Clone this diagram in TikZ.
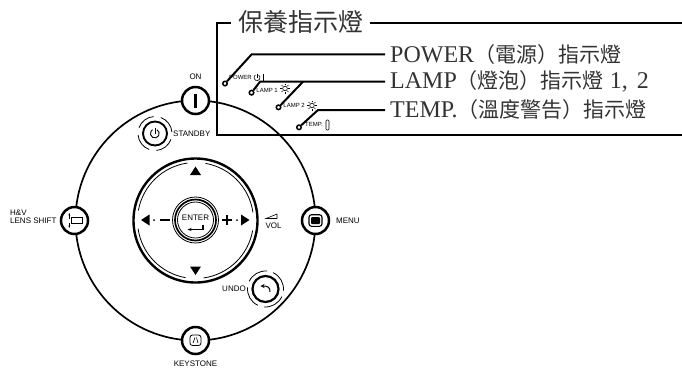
\documentclass[tikz,border=0pt]{standalone}
\usepackage{fontspec}
\setmainfont{Liberation Serif}
\setsansfont{Liberation Sans}
\newfontfamily\cjk{Noto Sans CJK TC}
\newcommand{\cjkpart}[1]{{\cjk\fontsize{21}{22}\selectfont #1}}
\usetikzlibrary{positioning, arrows.meta, calc}
\begin{document}
\begin{tikzpicture}[x=1pt, y=-1pt, >=Stealth,
      btn/.style={draw, circle, fill=white, line width=2.5pt, minimum size=27pt, inner sep=0pt},
      small/.style={circle, draw, line width=1.5pt, fill=white, minimum size=4.5pt, inner sep=0pt},
      leader/.style={line width=2pt},
      callout/.style={anchor=west, inner sep=5pt, font=\fontsize{24}{26}\selectfont, text=black!80},
      keyname/.style={inner sep=0pt, font=\sffamily\fontsize{8}{8.4}\selectfont, align=left},
      tiny/.style={inner sep=0pt, font=\sffamily\fontsize{6}{6}\selectfont},
      ringarc/.style={line width=0.8pt},
      tri/.style={fill=black, draw=none}]
    \useasboundingbox (0,0) rectangle (682,368);
    \node[inner sep=0pt, font=\cjk\fontsize{25}{27}\selectfont, text=black!80] (title) at (300.5,22) {保養指示燈};
    \draw[line width=2pt] (231,22.7) -- (217,22.7) -- (217,135) -- (682,135);
    \draw[line width=2pt] (title.east) ++(7,0.7) -- (682,22.7);
    \draw[line width=1.7pt] (195.5,220.5) circle[radius=120];
    \node[btn] (on) at (195.5,100.5) {};
    \node[btn] (menu) at (315.5,220.5) {};
    \node[btn] (shift) at (74.5,220.5) {};
    \node[btn] (keystone) at (195.5,340.5) {};
    \node[btn, minimum size=24pt, line width=1.9pt] (standby) at (155,133.5) {};
    \node[btn, minimum size=26pt, line width=2.2pt] (undo) at (265.5,289) {};
    \draw[line width=2.6pt] (on.center) ++(0,-7) -- ++(0,14);
    \draw[line width=0.9pt] (157,129.7) arc[start angle=-60,end angle=240,radius=4.4];
    \draw[line width=0.9pt] (155,127.5) -- (155,133.5);
    \foreach \a in {20,110,200,290}
      \draw[ringarc] (standby.center) ++(\a:17) arc[start angle=\a,delta angle=65,radius=17];
    \foreach \a in {25,115,205,295}
      \draw[ringarc] (undo.center) ++(\a:18) arc[start angle=\a,delta angle=70,radius=18];
    \draw[line width=1pt, ->, >={Stealth[length=4pt,width=4pt]}] (270,292) .. controls (270.5,287) and (267,286) .. (260.5,286);
    \draw[line width=1.1pt, rounded corners=2.5pt] (309,214.7) rectangle (322,226.3);
    \fill[rounded corners=1pt] (311,217) rectangle (320,224);
    \draw[line width=0.7pt] (71,217.7) rectangle (82.7,223.3);
    \draw[line width=0.6pt, ->, >={Stealth[length=2.5pt]}] (69.3,218.5) -- (69.3,213);
    \draw[line width=0.6pt, ->, >={Stealth[length=2.5pt]}] (69.3,222.5) -- (69.3,228);
    \draw[line width=0.8pt, rounded corners=2.5pt] (190,335) rectangle (201,345.5);
    \draw[line width=0.6pt] (193,343) -- (195,337.5) (198,343) -- (196.5,337.5);
    \draw[line width=2.4pt] (195.5,220.5) circle[radius=62];
    \foreach \a in {-80,10,100,190}
      \draw[ringarc] (195.5,220.5) ++(\a:58) arc[start angle=\a,delta angle=72,radius=58];
    \node[btn, minimum size=46pt, line width=0.8pt] (enter) at (195.5,220) {};
    \draw[line width=1.7pt] (enter.center) circle[radius=20.5];
    \draw[line width=0.8pt] (enter.center) circle[radius=18];
    \node[inner sep=0pt, font=\sffamily\fontsize{8}{8}\selectfont] (entertext) at (195.5,217.5) {ENTER};
    \draw[line width=1.3pt, ->, >={Stealth[length=4pt]}] (203,224.5) -- (203,229.5) -- (187.5,229.5);
    \draw[tri] (195.5,166.5) -- (201,175) -- (190,175) -- cycle;
    \draw[tri] (195.5,275) -- (201,266.5) -- (190,266.5) -- cycle;
    \draw[tri] (141,220) -- (149.5,214.5) -- (149.5,225.5) -- cycle;
    \draw[tri] (249.5,220) -- (241,214.5) -- (241,225.5) -- cycle;
    \fill (154,220) circle[radius=1] (237,220) circle[radius=1];
    \draw[line width=1.2pt] (160,220) -- (170,220) (222,220) -- (232,220) (227,215) -- (227,225);
    \node[keyname] (lblon) at (195.5,77) {ON};
    \node[keyname, anchor=west] (lblstandby) at (173,133.5) {STANDBY};
    \node[keyname, anchor=east] (lblundo) at (246,289) {UNDO};
    \node[keyname, anchor=west] (lblmenu) at (336,220.5) {MENU};
    \node[keyname, anchor=north west] (lblshift) at (10,209.5) {H\&V\\LENS SHIFT};
    \node[keyname] (lblkeystone) at (195.5,364) {KEYSTONE};
    \node[keyname] (lblvol) at (273.5,226) {VOL};
    \draw[line width=0.6pt] (266,218.5) -- (277,214) -- (277,218.5) -- cycle;
    \node[tiny, anchor=east] (tinypower) at (252,77.5) {POWER};
    \node[tiny, anchor=east] (tinylamp1) at (278,90.5) {LAMP 1};
    \node[tiny, anchor=east] (tinylamp2) at (305,105.5) {LAMP 2};
    \node[tiny, anchor=east] (tinytemp) at (323,124.5) {TEMP.};
    \draw[line width=0.6pt] (258.5,75) arc[start angle=-60,end angle=240,radius=3];
    \draw[line width=0.6pt] (257,73.5) -- (257,78);
    \draw[line width=0.9pt] (263,74) -- (263,81);
    \foreach \cx/\cy in {285/88.5,312/105.5} {
      \draw[line width=0.6pt] (\cx,\cy) circle[radius=2.3];
      \foreach \r in {0,45,...,315}
        \draw[line width=0.5pt] (\cx,\cy) ++(\r:3.2) -- ++(\r:1.8);
    }
    \draw[line width=0.6pt, rounded corners=1pt] (326,120) rectangle (329,130);
    \node[small] (rpower) at (225,83.5) {};
    \node[small] (rlamp1) at (251.5,92.7) {};
    \node[small] (rlamp2) at (278.5,107.3) {};
    \node[small] (rtemp) at (299,127.3) {};
    \node[callout] (tpower) at (385,54.3) {POWER\cjkpart{（電源）指示燈}};
    \node[callout] (tlamp) at (385,81.7) {LAMP\cjkpart{（燈泡）指示燈} 1,\hspace{9pt}2};
    \node[callout] (ttemp) at (385,110) {TEMP.\cjkpart{（溫度警告）指示燈}};
    \draw[leader] (tpower.west) -- (251.7,54.3) -- (rpower);
    \draw[leader] (tlamp.west) -- (260,81.7) -- (rlamp1);
    \draw[leader] (303,81.7) -- (rlamp2);
    \draw[leader] (ttemp.west) -- (318,110) -- (rtemp);
\end{tikzpicture}
\end{document}
